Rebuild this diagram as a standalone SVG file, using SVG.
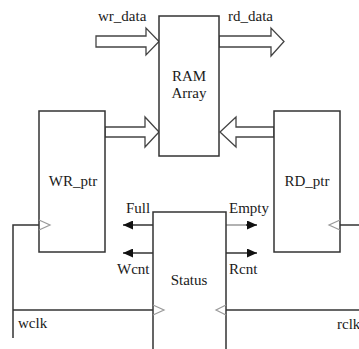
<svg xmlns="http://www.w3.org/2000/svg" width="359" height="349" viewBox="0 0 359 349">
<style>
.box{fill:#fff;stroke:#333;stroke-width:1.5}
.bus{fill:#fff;stroke:#444;stroke-width:1.3;stroke-linejoin:miter}
.wire{fill:none;stroke:#333;stroke-width:1.5}
.clk{fill:none;stroke:#999;stroke-width:1.2}
text{font-family:"Liberation Serif","Times New Roman",serif;font-size:15px;fill:#1a1a1a}
.c{text-anchor:middle}
</style>
<defs>
<marker id="ah" markerUnits="userSpaceOnUse" markerWidth="11" markerHeight="9" refX="10" refY="4.5" orient="auto">
<path d="M0,0 L10,4.5 L0,9 Z" fill="#111"/>
</marker>
</defs>
<rect width="359" height="349" fill="#fff"/>
<g id="connectors">
<polygon class="bus" points="96,36 146,36 146,28 159,41.5 146,55 146,47 96,47"/>
<polygon class="bus" points="219,36 271,36 271,28 284,41.5 271,56 271,47 219,47"/>
<polygon class="bus" points="105,127 145,127 145,117 159,132 145,147 145,137 105,137"/>
<polygon class="bus" points="274,127 236,127 236,117 220,132 236,147 236,137 274,137"/>
<polyline class="wire" points="39,225 13,225 13,338"/>
<line class="wire" x1="13" y1="310" x2="153" y2="310"/>
<line class="wire" x1="340" y1="225" x2="359" y2="225"/>
<line class="wire" x1="226" y1="310" x2="359" y2="310"/>
<line class="wire" x1="153" y1="225" x2="123" y2="225" marker-end="url(#ah)"/>
<line class="wire" x1="153" y1="253" x2="123" y2="253" marker-end="url(#ah)"/>
<line x1="226" y1="225" x2="248" y2="225" stroke="#aaa" stroke-width="1.8"/>
<line class="wire" x1="246" y1="225" x2="257" y2="225" marker-end="url(#ah)"/>
<line class="wire" x1="226" y1="253" x2="257" y2="253" marker-end="url(#ah)"/>
<text x="98" y="21">wr_data</text>
<text x="228" y="21">rd_data</text>
<text x="126" y="213">Full</text>
<text x="117" y="274">Wcnt</text>
<text x="229" y="213">Empty</text>
<text x="229" y="274">Rcnt</text>
<text x="18" y="328">wclk</text>
<text x="337" y="329">rclk</text>
</g>
<g id="ram">
<rect class="box" x="159" y="16" width="60" height="140"/>
<text class="c" x="189" y="81">RAM</text>
<text class="c" x="189" y="97.5">Array</text>
</g>
<g id="wr_ptr">
<rect class="box" x="39" y="111" width="66" height="141"/>
<text class="c" x="73" y="186">WR_ptr</text>
<polyline class="clk" points="39,220 50,225 39,230"/>
</g>
<g id="rd_ptr">
<rect class="box" x="274" y="111" width="66" height="141"/>
<text class="c" x="307" y="186">RD_ptr</text>
<polyline class="clk" points="340,220 329,225 340,230"/>
</g>
<g id="status">
<rect class="box" x="153" y="212" width="73" height="150"/>
<text class="c" x="189" y="285">Status</text>
<polyline class="clk" points="153,305 164,310 153,315"/>
<polyline class="clk" points="226,305 216,310 226,315"/>
</g>
</svg>
